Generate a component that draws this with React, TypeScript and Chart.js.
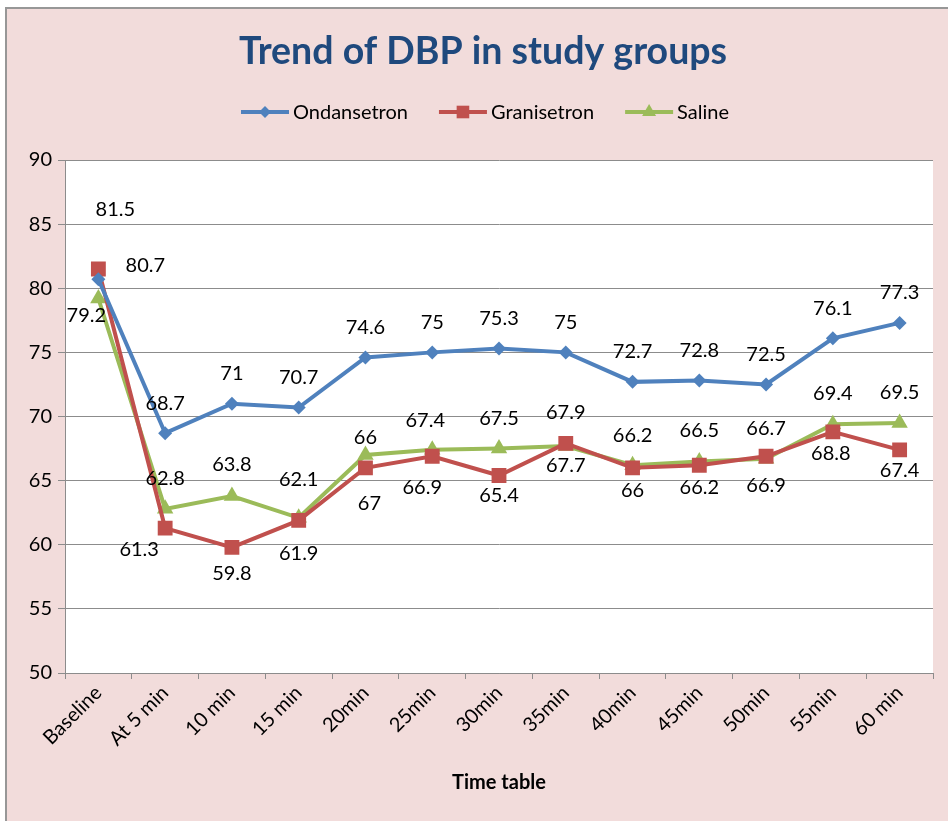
import React, { useEffect, useRef } from 'react';
import { Chart, registerables } from 'chart.js';

Chart.register(...registerables);

// ---- data ----
const categories = ['Baseline', 'At 5 min', '10 min', '15 min', '20min', '25min', '30min', '35min', '40min', '45min', '50min', '55min', '60 min'];
const ondansetron = [80.7, 68.7, 71, 70.7, 74.6, 75, 75.3, 75, 72.7, 72.8, 72.5, 76.1, 77.3];
const granisetron = [81.5, 61.3, 59.8, 61.9, 66, 66.9, 65.4, 67.9, 66, 66.2, 66.9, 68.8, 67.4];
const saline = [79.2, 62.8, 63.8, 62.1, 67, 67.4, 67.5, 67.7, 66.2, 66.5, 66.7, 69.4, 69.5];
const seriesNames = ['Ondansetron', 'Granisetron', 'Saline'];
const yMin = 50;
const yMax = 90;
const yStep = 5;
const chartTitle = 'Trend of DBP in study groups';
const xAxisTitle = 'Time table';

// ---- label placement (styling: pixel offsets from each point) ----
const ondLabelOffsets = [[47, -14], [0, -30], [0, -30], [0, -30], [0, -30], [0, -30], [0, -30], [0, -30], [0, -30], [0, -30], [0, -30], [0, -30], [0, -30]];
const graLabelOffsets = [[17, -59], [-26, 21], [0, 26], [0, 33], [0, -30], [-10, 31], [0, 20], [0, -31], [0, 23], [0, 22], [0, 29], [-2, 22], [0, 21]];
const salLabelOffsets = [[-12, 17], [0, -30], [0, -31], [0, -38], [4, 49], [-7, -29], [0, -30], [0, 20], [0, -30], [0, -31], [0, -30], [0, -31], [0, -30]];

const COLORS = ['#4F81BD', '#C0504D', '#9BBB59'];
const STYLES = ['rectRot', 'rect', 'triangle'];
const RADII = [7, 10.5, 9.5];
const FONT = 'Lato, "Open Sans", sans-serif';
const PINK = '#F2DCDB';
const GRID = '#8C8C8C';

const backgroundPlugin = {
  id: 'bgPlugin',
  beforeDraw(chart: any) {
    const { ctx, width, height, chartArea } = chart;
    ctx.save();
    ctx.fillStyle = '#ffffff';
    ctx.fillRect(0, 0, width, height);
    ctx.fillStyle = '#979797';
    ctx.fillRect(5, 7, width - 5, height - 7);
    ctx.fillStyle = PINK;
    ctx.fillRect(7, 9, width - 7, height - 9);
    ctx.fillStyle = '#ffffff';
    ctx.fillRect(chartArea.left, chartArea.top, chartArea.right - chartArea.left, chartArea.bottom - chartArea.top);
    ctx.restore();
  },
};

function drawMarker(ctx: CanvasRenderingContext2D, style: string, x: number, y: number, r: number) {
  ctx.beginPath();
  if (style === 'rectRot') {
    ctx.moveTo(x - r, y);
    ctx.lineTo(x, y - r);
    ctx.lineTo(x + r, y);
    ctx.lineTo(x, y + r);
  } else if (style === 'rect') {
    const s = Math.SQRT1_2 * r;
    ctx.rect(x - s, y - s, 2 * s, 2 * s);
  } else {
    const h = r * 1.5;
    const w = r * Math.sqrt(3) / 2;
    ctx.moveTo(x, y - r);
    ctx.lineTo(x + w, y + h - r);
    ctx.lineTo(x - w, y + h - r);
  }
  ctx.closePath();
  ctx.fill();
}

const titleLegendPlugin = {
  id: 'titleLegend',
  afterDraw(chart: any) {
    const { ctx } = chart;
    ctx.save();
    // title
    ctx.fillStyle = '#1F497D';
    ctx.font = `bold 37.5px ${FONT}`;
    ctx.textAlign = 'center';
    ctx.textBaseline = 'middle';
    ctx.fillText(chartTitle, 483, 52);
    // legend
    ctx.font = `20px ${FONT}`;
    const lineLen = 48;
    const gapText = 4;
    const gapItem = 31;
    const widths = seriesNames.map((n) => ctx.measureText(n).width);
    const total = widths.reduce((a, w) => a + lineLen + gapText + w, 0) + gapItem * (seriesNames.length - 1);
    let x = 485 - total / 2;
    const y = 112;
    seriesNames.forEach((name, i) => {
      ctx.strokeStyle = COLORS[i];
      ctx.lineWidth = 4;
      ctx.beginPath();
      ctx.moveTo(x, y);
      ctx.lineTo(x + lineLen, y);
      ctx.stroke();
      ctx.fillStyle = COLORS[i];
      drawMarker(ctx, STYLES[i], x + lineLen / 2, y, RADII[i] * 0.85);
      ctx.fillStyle = '#000000';
      ctx.textAlign = 'left';
      ctx.fillText(name, x + lineLen + gapText, y + 1);
      x += lineLen + gapText + widths[i] + gapItem;
    });
    ctx.restore();
  },
};

const dataLabelPlugin = {
  id: 'dataLabels',
  afterDatasetsDraw(chart: any) {
    const { ctx } = chart;
    const offsets = [ondLabelOffsets, graLabelOffsets, salLabelOffsets];
    ctx.save();
    ctx.font = `20px ${FONT}`;
    ctx.fillStyle = '#000000';
    ctx.textAlign = 'center';
    ctx.textBaseline = 'middle';
    chart.data.datasets.forEach((ds: any, di: number) => {
      const meta = chart.getDatasetMeta(di);
      meta.data.forEach((pt: any, i: number) => {
        const [dx, dy] = offsets[di][i];
        ctx.fillText(String(ds.data[i]), pt.x + dx, pt.y + dy);
      });
    });
    ctx.restore();
  },
};

export default function App() {
  const ref = useRef<HTMLCanvasElement | null>(null);

  useEffect(() => {
    if (!ref.current) return;
    const values = [ondansetron, granisetron, saline];
    const chart = new Chart(ref.current, {
      type: 'line',
      data: {
        labels: categories,
        datasets: values.map((v, i) => ({
          label: seriesNames[i],
          data: v,
          borderColor: COLORS[i],
          backgroundColor: COLORS[i],
          pointBackgroundColor: COLORS[i],
          pointBorderColor: COLORS[i],
          pointStyle: STYLES[i] as any,
          pointRadius: RADII[i],
          pointBorderWidth: 0,
          borderWidth: 4,
          tension: 0,
          fill: false,
        })),
      },
      options: {
        responsive: false,
        animation: false,
        events: [],
        layout: { padding: { left: 0, top: 160, right: 15, bottom: 0 } },
        plugins: {
          legend: { display: false },
          title: { display: false },
          tooltip: { enabled: false },
        },
        scales: {
          x: {
            type: 'category',
            offset: true,
            grid: {
              offset: true,
              drawOnChartArea: false,
              drawTicks: true,
              tickLength: 6,
              color: GRID,
            },
            border: { display: true, color: GRID, width: 1 },
            ticks: {
              minRotation: 45,
              maxRotation: 45,
              autoSkip: false,
              padding: 2,
              color: '#000000',
              font: { family: FONT, size: 20 },
            },
            title: {
              display: true,
              text: xAxisTitle,
              color: '#000000',
              font: { family: FONT, size: 20, weight: 'bold' },
              padding: { top: 0, bottom: 26 },
            },
            afterFit(scale: any) {
              scale.height = 148;
            },
          },
          y: {
            min: yMin,
            max: yMax,
            ticks: {
              stepSize: yStep,
              padding: 6,
              color: '#000000',
              font: { family: FONT, size: 20 },
            },
            grid: { color: GRID, tickLength: 7, lineWidth: 1 },
            border: { display: true, color: GRID, width: 1 },
            afterFit(scale: any) {
              scale.width = 65;
            },
          },
        },
      },
      plugins: [backgroundPlugin, dataLabelPlugin, titleLegendPlugin],
    });
    return () => chart.destroy();
  }, []);

  return (
    <div style={{ position: 'absolute', left: 0, top: 0, width: 948, height: 821 }}>
      <canvas ref={ref} width={948} height={821} style={{ display: 'block', width: 948, height: 821 }} />
    </div>
  );
}
